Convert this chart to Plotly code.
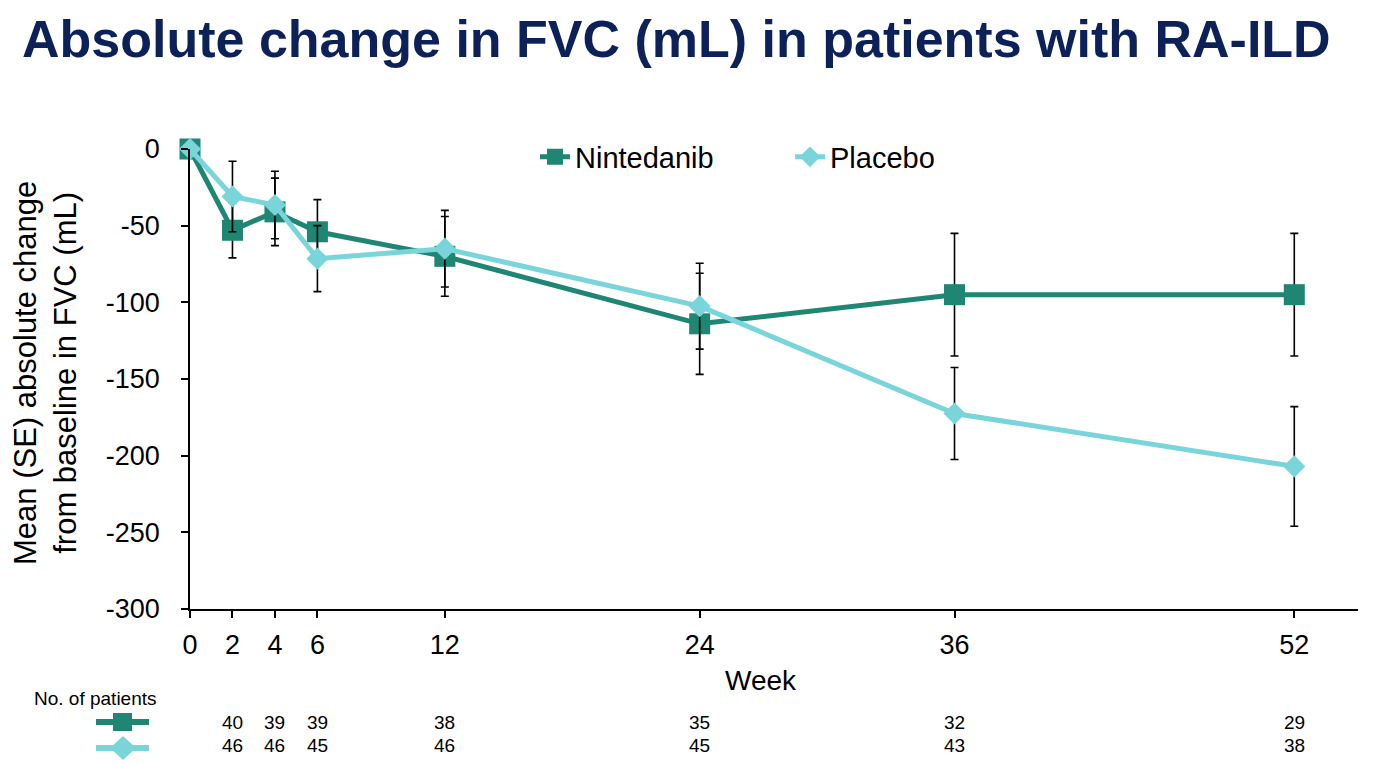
import plotly.graph_objects as go

weeks = [0, 2, 4, 6, 12, 24, 36, 52]
nint_mean = [0, -53, -41, -54, -70, -114, -95, -95]
nint_se = [0, 18, 22, 21, 26, 33, 40, 40]
plac_mean = [0, -31, -36.5, -71.5, -65, -102.5, -172.5, -207]
plac_se = [0, 23, 22, 21.5, 25, 28, 30, 39]

table_weeks = [2, 4, 6, 12, 24, 36, 52]
nint_n = [40, 39, 39, 38, 35, 32, 29]
plac_n = [46, 46, 45, 46, 45, 43, 38]

yticks = [0, -50, -100, -150, -200, -250, -300]
xticks = [0, 2, 4, 6, 12, 24, 36, 52]

C_NINT = "#1F8674"
C_PLAC = "#7AD5DB"
NAVY = "#0C2157"
FONT = "Liberation Sans, Arial, sans-serif"

fig = go.Figure()
fig.add_trace(go.Scatter(
    x=weeks, y=nint_mean, name="Nintedanib", mode="lines+markers",
    line=dict(color=C_NINT, width=5),
    marker=dict(symbol="square", size=21, color=C_NINT),
    error_y=dict(type="data", array=nint_se, color="black", thickness=1.6, width=4),
    cliponaxis=False,
))
fig.add_trace(go.Scatter(
    x=weeks, y=plac_mean, name="Placebo", mode="lines+markers",
    line=dict(color=C_PLAC, width=5),
    marker=dict(symbol="diamond", size=17, color=C_PLAC),
    error_y=dict(type="data", array=plac_se, color="black", thickness=1.6, width=4),
    cliponaxis=False,
))

# page is offset by the 8px body margin
OFF = 8
W, H = 1388 - OFF, 765 - OFF
L, T = 190 - OFF, 149 - OFF
R = W - (1358 - OFF)
B = H - (609 - OFF)
pw, ph = W - L - R, H - T - B

def px(xp):
    return (xp - OFF - L) / pw

def py(yp):
    return (H - B - (yp - OFF)) / ph

annotations = [
    dict(text="<b>Absolute change in FVC (mL) in patients with RA-ILD</b>",
         xref="paper", yref="paper", x=px(20), y=py(39), xanchor="left", yanchor="middle",
         showarrow=False, font=dict(size=52, color=NAVY, family=FONT)),
    dict(text="Mean (SE) absolute change<br>from baseline in FVC (mL)",
         xref="paper", yref="paper", x=px(45), y=py(373), xanchor="center", yanchor="middle",
         textangle=-90, showarrow=False, font=dict(size=31, color="black", family=FONT)),
    dict(text="Week", xref="paper", yref="paper", x=px(761), y=py(680),
         xanchor="center", yanchor="middle", showarrow=False,
         font=dict(size=28, color="black", family=FONT)),
    dict(text="No. of patients", xref="paper", yref="paper", x=px(32), y=py(698),
         xanchor="left", yanchor="middle", showarrow=False,
         font=dict(size=19, color="black", family=FONT)),
]
for wk, n in zip(table_weeks, nint_n):
    annotations.append(dict(text=str(n), xref="x", yref="paper", x=wk, y=py(722),
                            xanchor="center", yanchor="middle", showarrow=False,
                            font=dict(size=19, color="black", family=FONT)))
for wk, n in zip(table_weeks, plac_n):
    annotations.append(dict(text=str(n), xref="x", yref="paper", x=wk, y=py(745),
                            xanchor="center", yanchor="middle", showarrow=False,
                            font=dict(size=19, color="black", family=FONT)))

shapes = []
for yc, col, sym in [(722, C_NINT, "square"), (748, C_PLAC, "diamond")]:
    shapes.append(dict(type="line", xref="paper", yref="paper",
                       x0=px(96), x1=px(149), y0=py(yc), y1=py(yc),
                       line=dict(color=col, width=6)))
    if sym == "square":
        shapes.append(dict(type="rect", xref="paper", yref="paper",
                           x0=px(113), x1=px(132), y0=py(yc - 9), y1=py(yc + 9),
                           fillcolor=col, line=dict(width=0)))
    else:
        path = "M {} {} L {} {} L {} {} L {} {} Z".format(
            px(123), py(yc - 12), px(136), py(yc), px(123), py(yc + 12), px(110), py(yc))
        shapes.append(dict(type="path", xref="paper", yref="paper", path=path,
                           fillcolor=col, line=dict(width=0)))

fig.update_layout(
    width=W, height=H,
    margin=dict(l=L, r=R, t=T, b=B),
    paper_bgcolor="white", plot_bgcolor="white",
    font=dict(family=FONT, color="black", size=27),
    showlegend=True,
    legend=dict(orientation="h", x=px(535), y=py(157), xanchor="left", yanchor="middle",
                font=dict(size=29, family=FONT), bgcolor="rgba(0,0,0,0)",
                entrywidthmode="pixels", entrywidth=210, tracegroupgap=0,
                borderwidth=0),
    xaxis=dict(range=[0, 55], tickvals=xticks, ticktext=[str(v) for v in xticks],
               showline=True, linecolor="black", linewidth=1.6, ticks="outside",
               ticklen=7, tickcolor="black", tickwidth=1.6, showgrid=False, zeroline=False,
               tickfont=dict(size=27), ticklabelstandoff=4),
    yaxis=dict(range=[-300, 0], tickvals=yticks, ticktext=[str(v) for v in yticks],
               showline=True, linecolor="black", linewidth=1.6, ticks="outside",
               ticklen=7, tickcolor="black", tickwidth=1.6, showgrid=False, zeroline=False,
               tickfont=dict(size=27), ticklabelstandoff=16),
    annotations=annotations,
    shapes=shapes,
)

fig.write_html("out.html")
